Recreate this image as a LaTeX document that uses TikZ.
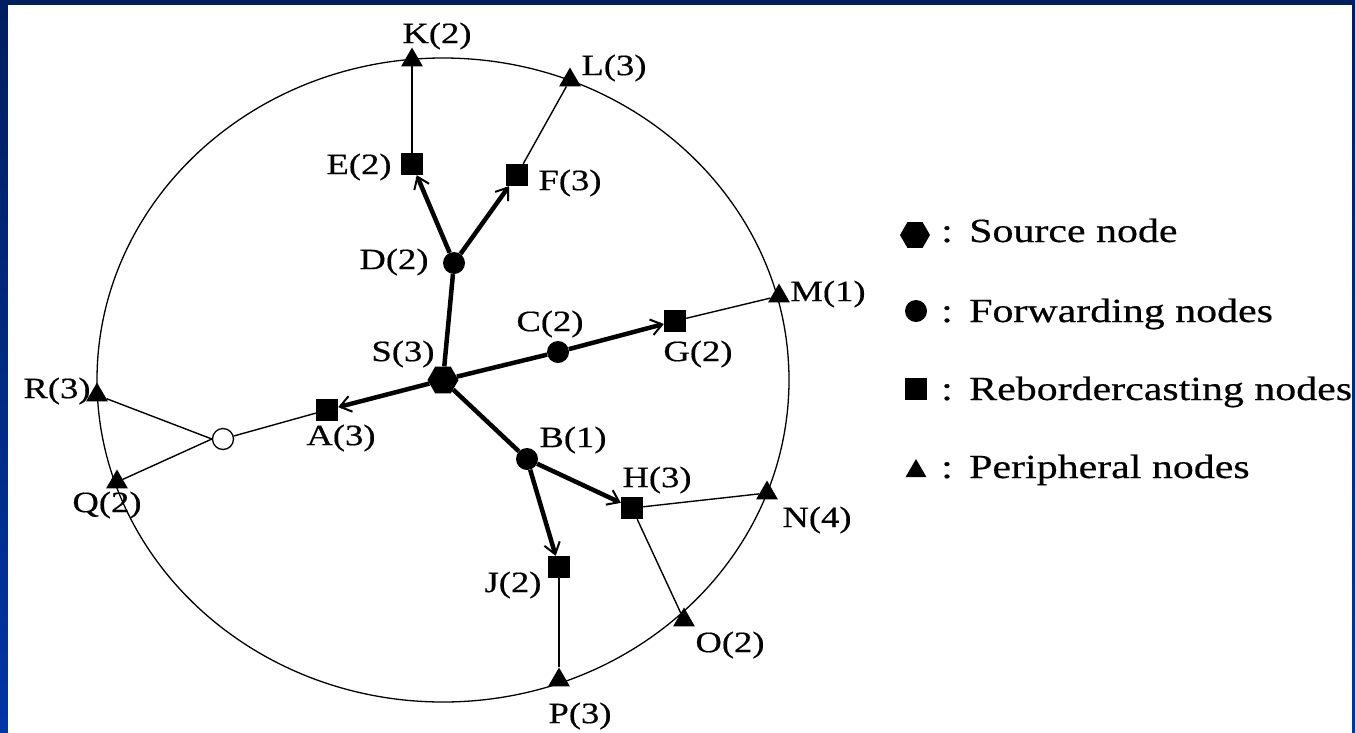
\documentclass[tikz,border=0pt]{standalone}
\usepackage{fontspec}
\setmainfont{Liberation Serif}[FakeStretch=1.24,FakeBold=0.5]
\usetikzlibrary{arrows.meta,shapes.geometric}
\definecolor{navy}{HTML}{001F5F}
\definecolor{brightblue}{HTML}{0035A5}
\begin{document}
\begin{tikzpicture}[x=1pt,y=-1pt,
  fwd/.style={circle,fill=black,minimum size=22pt,inner sep=0pt},
  opennode/.style={circle,draw=black,fill=white,line width=1.3pt,minimum size=21pt,inner sep=0pt},
  src/.style={regular polygon,regular polygon sides=6,fill=black,minimum size=31pt,inner sep=0pt},
  reb/.style={rectangle,fill=black,minimum size=22pt,inner sep=0pt},
  per/.style={regular polygon,regular polygon sides=3,fill=black,minimum size=25pt,inner sep=0pt},
  lbl/.style={inner sep=0pt,font=\fontsize{29.5}{30}\selectfont},
  leg/.style={inner sep=0pt,font=\fontsize{33.8}{34}\selectfont},
  thickedge/.style={line width=4.5pt},
  thinedge/.style={line width=1.4pt},
  arr/.style={thickedge,-{Straight Barb[length=11pt,width=16pt,line width=2pt]}}
]
\useasboundingbox (0,0) rectangle (1355,732);
% frame
\fill[navy] (0,0) rectangle (1355,732);
\shade[top color=navy,bottom color=brightblue] (0,5) rectangle (8,732);
\shade[top color=navy,bottom color=brightblue] (1352,5) rectangle (1355,732);
\fill[white] (8,5) rectangle (1352,732);
% outer boundary
\draw[line width=1.3pt] (443,380) ellipse [x radius=346, y radius=322];
% nodes
\node[src] (S) at (443,380) {};
\node[fwd] (D) at (454,263) {};
\node[fwd] (C) at (558,352) {};
\node[fwd] (B) at (527,459) {};
\node[reb] (E) at (412,164) {};
\node[reb] (F) at (517,175) {};
\node[reb] (G) at (675,321) {};
\node[reb] (A) at (327,410) {};
\node[reb] (H) at (632,508) {};
\node[reb] (J) at (559,567) {};
\node[per] (K) at (412,60) {};
\node[per] (L) at (570,80) {};
\node[per] (M) at (779,296) {};
\node[per] (N) at (767,493) {};
\node[per] (O) at (684,620) {};
\node[per] (P) at (559,680) {};
\node[per] (R) at (97,395) {};
\node[per] (Q) at (117,482) {};
\node[opennode] (X) at (223,439) {};
% thin edges
\draw[thinedge] (E) -- (K);
\draw[thinedge] (F) -- (L);
\draw[thinedge] (G) -- (M);
\draw[thinedge] (H) -- (N);
\draw[thinedge] (H) -- (O);
\draw[thinedge] (J) -- (P);
\draw[thinedge] (A) -- (X);
\draw[thinedge] (X.west) -- (R);
\draw[thinedge] (X.west) -- (Q);
% thick edges
\draw[thickedge] (S) -- (D);
\draw[thickedge] (S) -- (C);
\draw[thickedge] (S) -- (B);
\draw[arr] (D) -- (E);
\draw[arr] (D) -- (F);
\draw[arr] (C) -- (G);
\draw[arr] (S) -- (A);
\draw[arr] (B) -- (H);
\draw[arr] (B) -- (J);
% labels
\node[lbl] (lK) at (437,36) {K(2)};
\node[lbl] (lL) at (614,68) {L(3)};
\node[lbl] (lE) at (359,167) {E(2)};
\node[lbl] (lF) at (570,183) {F(3)};
\node[lbl] (lD) at (394,262) {D(2)};
\node[lbl] (lS) at (403,354) {S(3)};
\node[lbl] (lC) at (550,324) {C(2)};
\node[lbl] (lG) at (698,354) {G(2)};
\node[lbl] (lM) at (828,294) {M(1)};
\node[lbl] (lR) at (57,391) {R(3)};
\node[lbl] (lQ) at (107,505) {Q(2)};
\node[lbl] (lA) at (341,438) {A(3)};
\node[lbl] (lB) at (573,440) {B(1)};
\node[lbl] (lH) at (657,480) {H(3)};
\node[lbl] (lN) at (817,520) {N(4)};
\node[lbl] (lJ) at (513,585) {J(2)};
\node[lbl] (lO) at (730,645) {O(2)};
\node[lbl] (lP) at (580,716) {P(3)};
% legend
\node[src,minimum size=30pt] (ls) at (915,235) {};
\node[fwd] (lf) at (916,311) {};
\node[reb] (lr) at (916,389) {};
\node[per,minimum size=24pt] (lp) at (916,471) {};
\node[leg,anchor=base] (c1) at (947,242) {:};
\node[leg,anchor=base] (c2) at (947,322) {:};
\node[leg,anchor=base] (c3) at (947,400) {:};
\node[leg,anchor=base] (c4) at (947,478) {:};
\node[leg,anchor=base west] (t1) at (969,242) {Source node};
\node[leg,anchor=base west] (t2) at (969,322) {Forwarding nodes};
\node[leg,anchor=base west] (t3) at (969,400) {Rebordercasting nodes};
\node[leg,anchor=base west] (t4) at (969,478) {Peripheral nodes};
\end{tikzpicture}
\end{document}
